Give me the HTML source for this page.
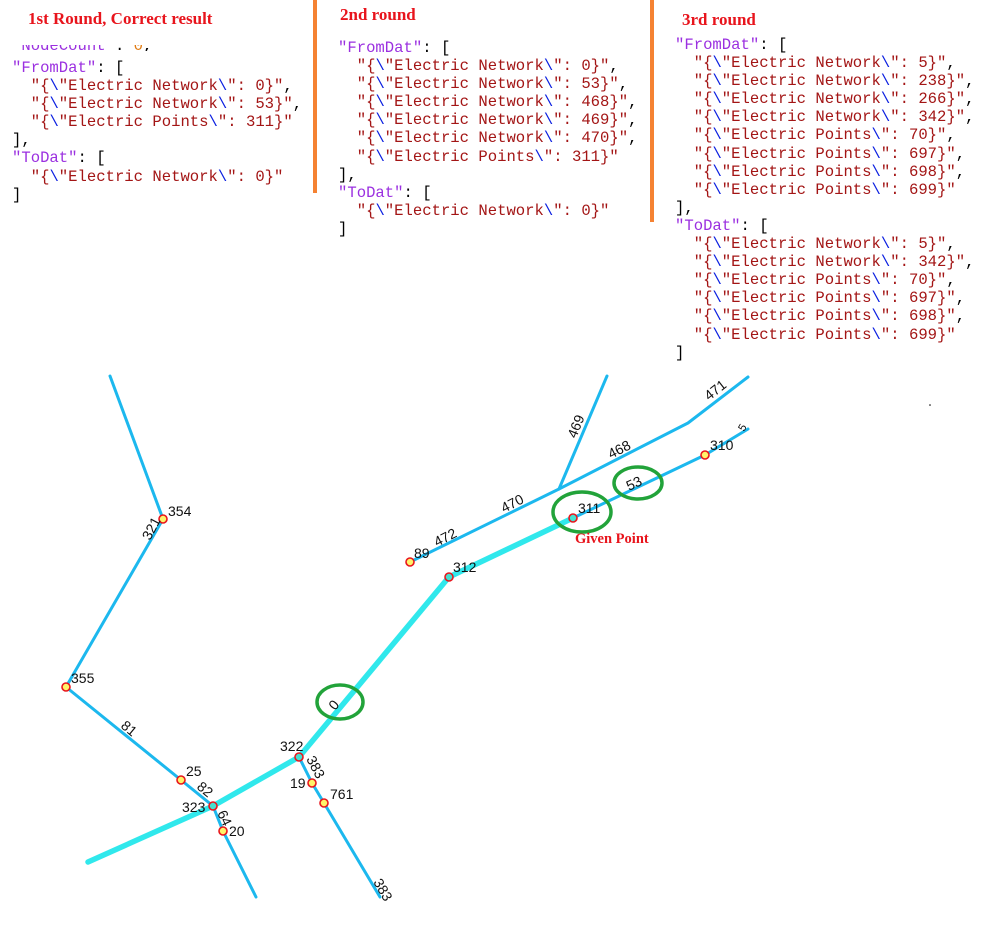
<!DOCTYPE html>
<html><head><meta charset="utf-8"><style>
html,body{margin:0;padding:0;background:#fff;}
body{width:999px;height:926px;position:relative;overflow:hidden;}
.h{position:absolute;font-family:"Liberation Serif",serif;font-weight:bold;color:#e8141c;font-size:17px;}
pre{position:absolute;margin:0;font-family:"Liberation Mono",monospace;font-size:15.6px;line-height:18.1px;color:#000;}
.k{color:#9b30e0}.s{color:#a31515}.b{color:#0a1ee0}
.bar{position:absolute;width:4px;background:#f58232;}
</style></head><body>
<div class="h" style="left:28px;top:9px">1st Round, Correct result</div>
<div class="h" style="left:340px;top:5px">2nd round</div>
<div class="h" style="left:682px;top:10px">3rd round</div>
<div class="bar" style="left:313px;top:0;height:193px"></div>
<div class="bar" style="left:650px;top:0;height:222px"></div>
<div style="position:absolute;left:0;top:45px;width:300px;height:6px;overflow:hidden">
<pre style="left:12px;top:-8px"><span class="k">"NodeCount"</span>: <span style="color:#e07a10">0</span>,</pre></div>
<pre style="left:12px;top:59px"><span class="k">"FromDat"</span>: [
  <span class="s">"{<span class="b">\</span>"Electric Network<span class="b">\</span>": 0}"</span>,
  <span class="s">"{<span class="b">\</span>"Electric Network<span class="b">\</span>": 53}"</span>,
  <span class="s">"{<span class="b">\</span>"Electric Points<span class="b">\</span>": 311}"</span>
],
<span class="k">"ToDat"</span>: [
  <span class="s">"{<span class="b">\</span>"Electric Network<span class="b">\</span>": 0}"</span>
]</pre>
<pre style="left:338px;top:39px"><span class="k">"FromDat"</span>: [
  <span class="s">"{<span class="b">\</span>"Electric Network<span class="b">\</span>": 0}"</span>,
  <span class="s">"{<span class="b">\</span>"Electric Network<span class="b">\</span>": 53}"</span>,
  <span class="s">"{<span class="b">\</span>"Electric Network<span class="b">\</span>": 468}"</span>,
  <span class="s">"{<span class="b">\</span>"Electric Network<span class="b">\</span>": 469}"</span>,
  <span class="s">"{<span class="b">\</span>"Electric Network<span class="b">\</span>": 470}"</span>,
  <span class="s">"{<span class="b">\</span>"Electric Points<span class="b">\</span>": 311}"</span>
],
<span class="k">"ToDat"</span>: [
  <span class="s">"{<span class="b">\</span>"Electric Network<span class="b">\</span>": 0}"</span>
]</pre>
<pre style="left:675px;top:36px"><span class="k">"FromDat"</span>: [
  <span class="s">"{<span class="b">\</span>"Electric Network<span class="b">\</span>": 5}"</span>,
  <span class="s">"{<span class="b">\</span>"Electric Network<span class="b">\</span>": 238}"</span>,
  <span class="s">"{<span class="b">\</span>"Electric Network<span class="b">\</span>": 266}"</span>,
  <span class="s">"{<span class="b">\</span>"Electric Network<span class="b">\</span>": 342}"</span>,
  <span class="s">"{<span class="b">\</span>"Electric Points<span class="b">\</span>": 70}"</span>,
  <span class="s">"{<span class="b">\</span>"Electric Points<span class="b">\</span>": 697}"</span>,
  <span class="s">"{<span class="b">\</span>"Electric Points<span class="b">\</span>": 698}"</span>,
  <span class="s">"{<span class="b">\</span>"Electric Points<span class="b">\</span>": 699}"</span>
],
<span class="k">"ToDat"</span>: [
  <span class="s">"{<span class="b">\</span>"Electric Network<span class="b">\</span>": 5}"</span>,
  <span class="s">"{<span class="b">\</span>"Electric Network<span class="b">\</span>": 342}"</span>,
  <span class="s">"{<span class="b">\</span>"Electric Points<span class="b">\</span>": 70}"</span>,
  <span class="s">"{<span class="b">\</span>"Electric Points<span class="b">\</span>": 697}"</span>,
  <span class="s">"{<span class="b">\</span>"Electric Points<span class="b">\</span>": 698}"</span>,
  <span class="s">"{<span class="b">\</span>"Electric Points<span class="b">\</span>": 699}"</span>
]</pre>
<svg width="999" height="926" style="position:absolute;left:0;top:0" font-family="Liberation Sans, sans-serif" font-size="14">
<g fill="none" stroke="#1cb8ee" stroke-width="3" stroke-linejoin="round" stroke-linecap="round">
<polyline points="110,376 163,519 66,687 181,780 213,806 223,831 256,897"/>
<polyline points="299,757 312,783 324,803 380,897"/>
<polyline points="410,562 559,489 688,423 748,377"/>
<polyline points="559,489 607,376"/>
<polyline points="573,518 705,455 748,429"/>
</g>
<polyline points="88,862 213,806 299,757 449,577 573,518" fill="none" stroke="#30e8ec" stroke-width="5.5" stroke-linejoin="round" stroke-linecap="round"/>
<g stroke="#e8141c" stroke-width="1.6" fill="#fff36a">
<circle cx="163" cy="519" r="4"/><circle cx="66" cy="687" r="4"/><circle cx="181" cy="780" r="4"/>
<circle cx="223" cy="831" r="4"/><circle cx="312" cy="783" r="4"/><circle cx="324" cy="803" r="4"/>
<circle cx="410" cy="562" r="4"/><circle cx="705" cy="455" r="4"/>
</g>
<g stroke="#e8141c" stroke-width="1.6" fill="#45e0d0">
<circle cx="213" cy="806" r="4"/><circle cx="299" cy="757" r="4"/><circle cx="449" cy="577" r="4"/><circle cx="573" cy="518" r="4"/>
</g>
<g fill="none" stroke="#22a33a" stroke-width="3.5">
<ellipse cx="340" cy="702" rx="23" ry="17"/>
<ellipse cx="582" cy="512" rx="29" ry="20"/>
<ellipse cx="638" cy="483" rx="24" ry="16"/>
</g>
<g fill="#111">
<text x="168" y="516">354</text><text x="71" y="683">355</text><text x="186" y="776">25</text>
<text x="229" y="836">20</text><text x="182" y="812">323</text><text x="280" y="751">322</text>
<text x="290" y="788">19</text><text x="330" y="799">761</text><text x="414" y="558">89</text>
<text x="453" y="572">312</text><text x="578" y="513">311</text><text x="710" y="450">310</text>
<text transform="translate(150,541) rotate(-62)">321</text>
<text transform="translate(120,727) rotate(40)">81</text>
<text transform="translate(196,788) rotate(40)">82</text>
<text transform="translate(217,813) rotate(65)">64</text>
<text transform="translate(306,759) rotate(62)">383</text>
<text transform="translate(373,882) rotate(60)">383</text>
<text transform="translate(335,711) rotate(-50)">0</text>
<text transform="translate(437,547) rotate(-27)">472</text>
<text transform="translate(504,513) rotate(-27)">470</text>
<text transform="translate(611,459) rotate(-27)">468</text>
<text transform="translate(576,439) rotate(-68)">469</text>
<text transform="translate(709,401) rotate(-38)">471</text>
<text transform="translate(629,491) rotate(-25)">53</text>
<text transform="translate(744,432) rotate(-60)" font-size="11">5</text>
</g>
<text x="575" y="543" font-family="Liberation Serif, serif" font-weight="bold" font-size="14.5" fill="#e8141c">Given Point</text>
<circle cx="930" cy="405" r="0.8" fill="#000"/>
</svg>
</body></html>
